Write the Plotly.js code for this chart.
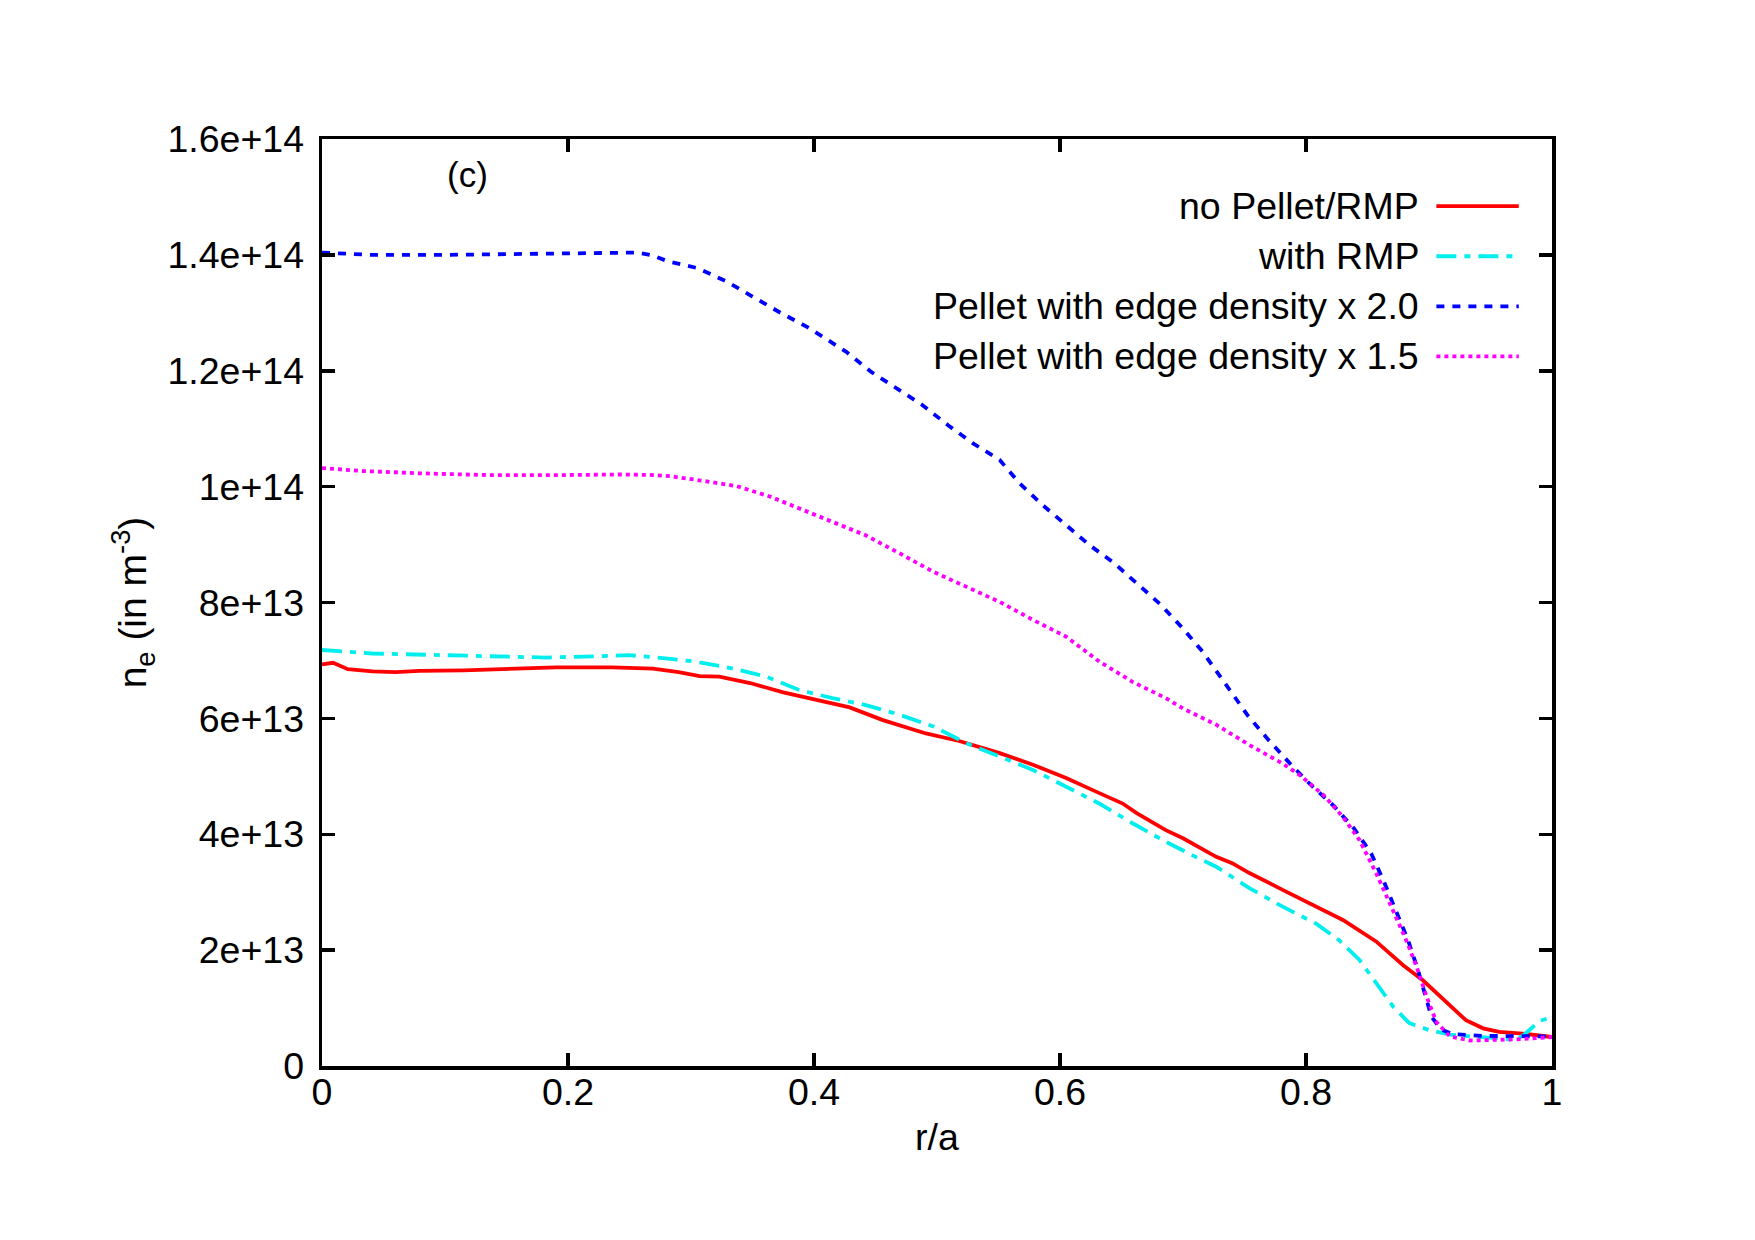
<!DOCTYPE html>
<html>
<head>
<meta charset="utf-8">
<script src="https://cdn.plot.ly/plotly-3.0.1.min.js"></script>
<style>
  html, body { margin: 0; padding: 0; background: #ffffff; }
  #plot { width: 1755px; height: 1240px; }
</style>
</head>
<body>
<div id="plot"></div>
<script>
// Electron density profiles n_e versus normalised radius r/a

// no Pellet/RMP
const rNoPellet = [0, 0.009, 0.021, 0.041, 0.06, 0.079, 0.115, 0.155, 0.19, 0.236, 0.269, 0.29, 0.307, 0.323, 0.348, 0.375, 0.402, 0.429, 0.456, 0.491, 0.518, 0.551, 0.578, 0.605, 0.632, 0.651, 0.662, 0.686, 0.70, 0.727, 0.74, 0.754, 0.781, 0.808, 0.83, 0.857, 0.879, 0.895, 0.911, 0.93, 0.944, 0.957, 0.976, 1.0];
const neNoPellet = [6.93e13, 6.96e13, 6.85e13, 6.81e13, 6.80e13, 6.82e13, 6.83e13, 6.85e13, 6.88e13, 6.88e13, 6.86e13, 6.80e13, 6.73e13, 6.72e13, 6.61e13, 6.45e13, 6.32e13, 6.19e13, 5.97e13, 5.74e13, 5.61e13, 5.40e13, 5.20e13, 4.97e13, 4.71e13, 4.53e13, 4.37e13, 4.07e13, 3.93e13, 3.61e13, 3.50e13, 3.33e13, 3.04e13, 2.75e13, 2.52e13, 2.15e13, 1.74e13, 1.48e13, 1.17e13, 0.79e13, 0.65e13, 0.59e13, 0.56e13, 0.50e13];

// with RMP
const rRmp = [0, 0.041, 0.101, 0.182, 0.236, 0.25, 0.272, 0.304, 0.334, 0.361, 0.388, 0.415, 0.442, 0.47, 0.497, 0.524, 0.551, 0.578, 0.605, 0.632, 0.659, 0.686, 0.713, 0.727, 0.754, 0.781, 0.808, 0.827, 0.8435, 0.857, 0.871, 0.884, 0.90, 0.917, 0.944, 0.971, 0.979, 0.99, 1.0];
const neRmp = [7.18e13, 7.12e13, 7.09e13, 7.05e13, 7.08e13, 7.09e13, 7.05e13, 6.98e13, 6.86e13, 6.72e13, 6.49e13, 6.35e13, 6.23e13, 6.06e13, 5.86e13, 5.57e13, 5.34e13, 5.11e13, 4.82e13, 4.53e13, 4.19e13, 3.87e13, 3.58e13, 3.44e13, 3.07e13, 2.75e13, 2.46e13, 2.17e13, 1.83e13, 1.43e13, 1.02e13, 0.74e13, 0.62e13, 0.54e13, 0.50e13, 0.45e13, 0.57e13, 0.78e13, 0.84e13];

// Pellet with edge density x 2.0
const rPellet20 = [0, 0.04, 0.1, 0.15, 0.2, 0.257, 0.269, 0.281, 0.3055, 0.329, 0.35, 0.372, 0.395, 0.426, 0.4465, 0.467, 0.488, 0.509, 0.529, 0.551, 0.567, 0.586, 0.605, 0.624, 0.644, 0.663, 0.682, 0.70, 0.716, 0.738, 0.753, 0.769, 0.787, 0.804, 0.823, 0.839, 0.853, 0.864, 0.873, 0.883, 0.891, 0.898, 0.902, 0.91, 0.919, 0.944, 0.971, 1.0];
const nePellet20 = [14.04e13, 14.0e13, 14.0e13, 14.01e13, 14.02e13, 14.04e13, 13.99e13, 13.89e13, 13.77e13, 13.54e13, 13.28e13, 13.01e13, 12.75e13, 12.33e13, 11.98e13, 11.70e13, 11.41e13, 11.06e13, 10.75e13, 10.46e13, 10.06e13, 9.68e13, 9.34e13, 8.99e13, 8.68e13, 8.33e13, 7.96e13, 7.55e13, 7.15e13, 6.49e13, 6.04e13, 5.64e13, 5.22e13, 4.85e13, 4.48e13, 4.10e13, 3.67e13, 3.15e13, 2.69e13, 2.17e13, 1.66e13, 1.14e13, 0.85e13, 0.63e13, 0.55e13, 0.52e13, 0.51e13, 0.51e13];

// Pellet with edge density x 1.5
const rPellet15 = [0, 0.033, 0.079, 0.134, 0.2, 0.242, 0.27, 0.283, 0.31, 0.337, 0.364, 0.388, 0.415, 0.442, 0.4695, 0.497, 0.524, 0.551, 0.578, 0.605, 0.632, 0.659, 0.686, 0.70, 0.727, 0.754, 0.781, 0.795, 0.814, 0.83, 0.8435, 0.857, 0.8706, 0.8815, 0.89, 0.898, 0.906, 0.917, 0.933, 0.971, 1.0];
const nePellet15 = [10.32e13, 10.27e13, 10.23e13, 10.20e13, 10.20e13, 10.21e13, 10.20e13, 10.18e13, 10.10e13, 10.01e13, 9.83e13, 9.62e13, 9.39e13, 9.16e13, 8.85e13, 8.53e13, 8.27e13, 8.01e13, 7.70e13, 7.41e13, 6.98e13, 6.63e13, 6.35e13, 6.17e13, 5.89e13, 5.54e13, 5.22e13, 5.02e13, 4.68e13, 4.30e13, 3.90e13, 3.33e13, 2.69e13, 2.17e13, 1.71e13, 1.20e13, 0.76e13, 0.51e13, 0.44e13, 0.46e13, 0.50e13];

// Tick labels
const xTickVals = [0, 0.2, 0.4, 0.6, 0.8, 1];
const xTickText = ['0', '0.2', '0.4', '0.6', '0.8', '1'];
const yTickVals = [0, 2e13, 4e13, 6e13, 8e13, 1e14, 1.2e14, 1.4e14, 1.6e14];
const yTickText = ['0', '2e+13', '4e+13', '6e+13', '8e+13', '1e+14', '1.2e+14', '1.4e+14', '1.6e+14'];

// Series names and styles
const seriesNames = ['no Pellet/RMP', 'with RMP', 'Pellet with edge density x 2.0', 'Pellet with edge density x 1.5'];
const seriesColors = ['#ff0000', '#00eeee', '#0000ff', '#ff00ff'];
const seriesDash = ['solid', '20px,8px,6px,8px', '8px,8px', '4px,4px'];

const FONT = '"Liberation Sans", Arial, Helvetica, sans-serif';
const FS = 37.5;
const LW = 3.8;

const xs = [rNoPellet, rRmp, rPellet20, rPellet15];
const ys = [neNoPellet, neRmp, nePellet20, nePellet15];

const traces = xs.map((x, i) => ({
  x: x,
  y: ys[i],
  type: 'scatter',
  mode: 'lines',
  name: seriesNames[i],
  line: { color: seriesColors[i], width: LW, dash: seriesDash[i] },
  showlegend: false,
  hoverinfo: 'x+y+name'
}));

// Key in the upper right: right-aligned text followed by a line sample
const keyTextX = 0.8933;
const keyLineX0 = 0.906;
const keyLineX1 = 0.973;
const keyRowsY = [0.9275, 0.8735, 0.8195, 0.7655];

const annotations = seriesNames.map((name, i) => ({
  xref: 'paper', yref: 'paper',
  x: keyTextX, y: keyRowsY[i],
  xanchor: 'right', yanchor: 'middle',
  text: name,
  showarrow: false,
  font: { family: FONT, size: FS, color: '#000000' }
}));
annotations.push({
  xref: 'paper', yref: 'paper',
  x: 0.1183, y: 0.962,
  xanchor: 'center', yanchor: 'middle',
  text: '(c)',
  showarrow: false,
  font: { family: FONT, size: 35, color: '#000000' }
});

const shapes = seriesNames.map((name, i) => ({
  type: 'line',
  xref: 'paper', yref: 'paper',
  x0: keyLineX0, x1: keyLineX1,
  y0: keyRowsY[i], y1: keyRowsY[i],
  line: { color: seriesColors[i], width: LW, dash: seriesDash[i] }
}));

const axisCommon = {
  showline: true,
  linecolor: '#000000',
  linewidth: 3.5,
  mirror: 'ticks',
  ticks: 'inside',
  ticklen: 13,
  tickwidth: 3.5,
  tickcolor: '#000000',
  showgrid: false,
  zeroline: false,
  tickfont: { family: FONT, size: FS, color: '#000000' }
};

const layout = {
  width: 1755,
  height: 1240,
  margin: { l: 322, r: 203, t: 139, b: 174, pad: 0 },
  paper_bgcolor: '#ffffff',
  plot_bgcolor: '#ffffff',
  showlegend: false,
  xaxis: Object.assign({}, axisCommon, {
    range: [0, 1],
    tickmode: 'array',
    tickvals: xTickVals,
    ticktext: xTickText,
    ticklabelstandoff: -10,
    title: { text: 'r/a', font: { family: FONT, size: FS, color: '#000000' }, standoff: 13 }
  }),
  yaxis: Object.assign({}, axisCommon, {
    range: [0, 1.6e14],
    tickmode: 'array',
    tickvals: yTickVals,
    ticktext: yTickText,
    ticklabelstandoff: 7,
    title: { text: 'n<sub>e</sub> (in m<sup>-3</sup>)', font: { family: FONT, size: 39, color: '#000000' }, standoff: 9 }
  }),
  annotations: annotations,
  shapes: shapes
};

Plotly.newPlot('plot', traces, layout, { displayModeBar: false, staticPlot: true });
</script>
</body>
</html>
